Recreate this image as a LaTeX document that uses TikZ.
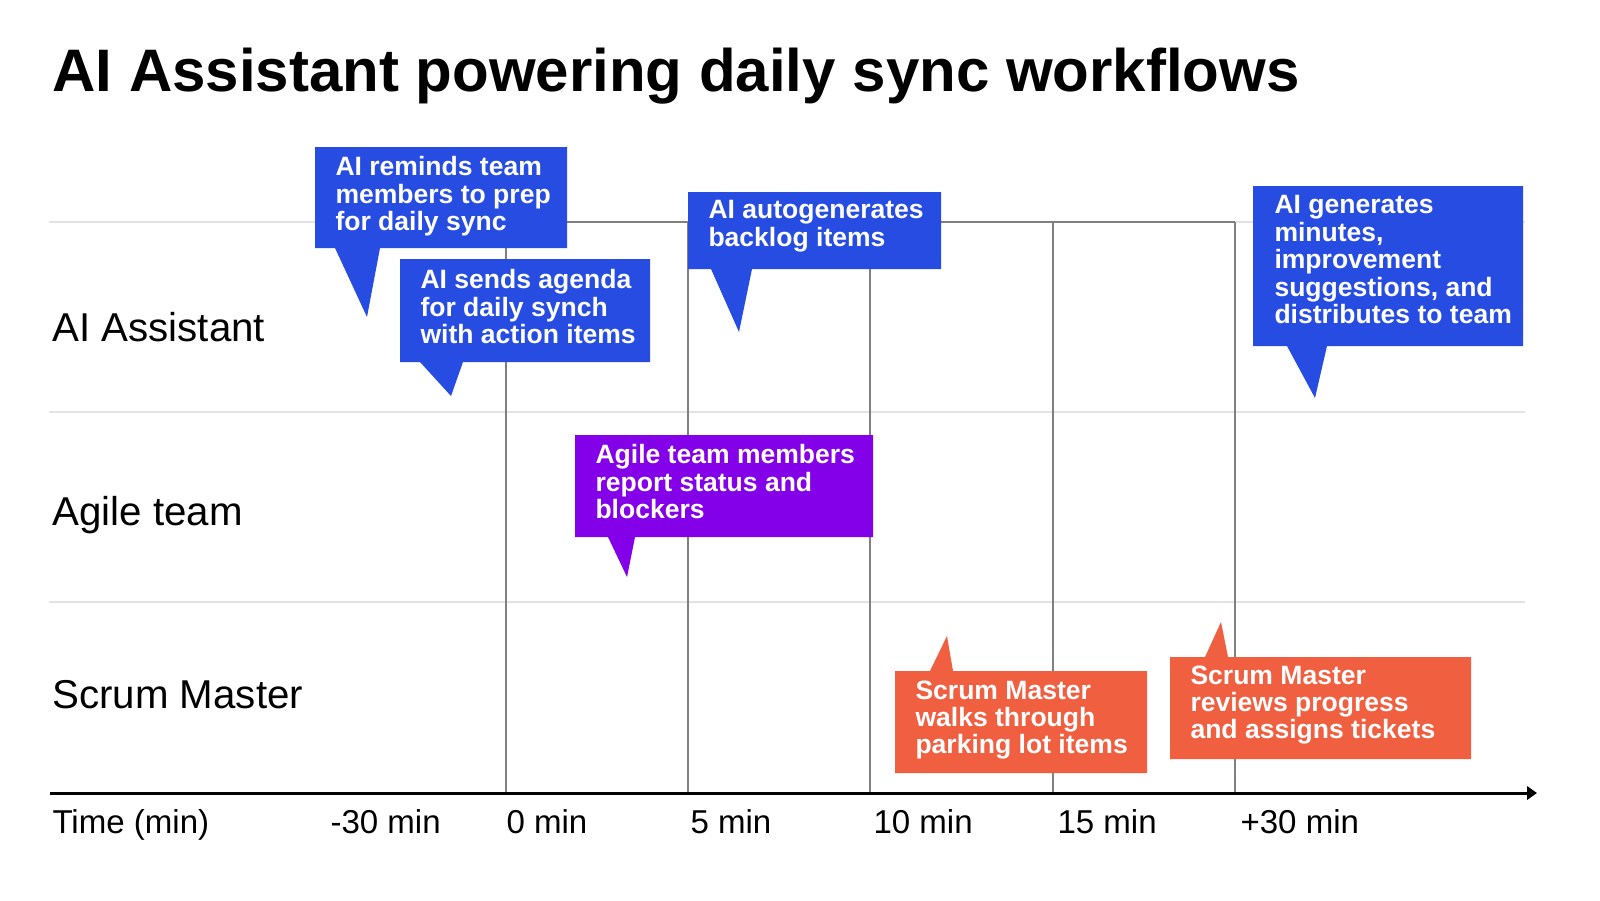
\documentclass[tikz,border=0pt]{standalone}
\usepackage{fontspec}
\setmainfont{Liberation Sans}
\usetikzlibrary{arrows.meta}
\definecolor{aiblue}{RGB}{38,76,226}
\definecolor{teampurple}{RGB}{132,0,232}
\definecolor{smorange}{RGB}{240,95,64}
\definecolor{lanegray}{RGB}{227,227,227}
\definecolor{tickgray}{RGB}{128,128,128}
\tikzset{every picture/.style={line width=0.75pt}}
\tikzset{
  lane/.style={draw=lanegray, line width=1.9pt},
  tick/.style={draw=tickgray, line width=1.1pt},
  calltext/.style={anchor=north west, inner sep=0pt, align=left, text=white, font=\fontsize{19.9}{20.6}\selectfont\bfseries},
  rowlabel/.style={anchor=base west, inner sep=0pt, font=\fontsize{30.2}{36}\selectfont},
  timelabel/.style={anchor=base west, inner sep=0pt, font=\fontsize{24.8}{30}\selectfont}
}

\begin{document}
\begin{tikzpicture}[x=0.75pt,y=0.75pt,yscale=-1,xscale=1]
\fill[white] (0,0) rectangle (1600,900);
\useasboundingbox (0,0) rectangle (1600,900);
% swim lanes
\draw[lane] (49,222) -- (1525,222) ;
\draw[lane] (49,412) -- (1525,412) ;
\draw[lane] (49,602) -- (1525,602) ;
% time grid
\draw[tick] (506,222) -- (1235,222) ;
\draw[tick] (506,222) -- (506,793) ;
\draw[tick] (688,222) -- (688,793) ;
\draw[tick] (870,222) -- (870,793) ;
\draw[tick] (1053,222) -- (1053,793) ;
\draw[tick] (1235,222) -- (1235,793) ;
% time axis
\coordinate (tstart) at (50,793);
\coordinate (tend) at (1537,793);
\draw[line width=2.25pt, -{Triangle[length=7.5pt,width=10pt]}] (tstart) -- (tend) ;
% callouts
\fill[aiblue] (315,147) -- (567,147) -- (567,248) -- (380,248) -- (367,317) -- (335,248) -- (315,248) -- cycle ;
\fill[aiblue] (400,259) -- (650,259) -- (650,362) -- (463,362) -- (451,396) -- (420,362) -- (400,362) -- cycle ;
\fill[aiblue] (688,192) -- (941,192) -- (941,269) -- (752,269) -- (739,332) -- (711,269) -- (688,269) -- cycle ;
\fill[aiblue] (1253,186) -- (1523,186) -- (1523,346) -- (1327,346) -- (1315,398) -- (1287,346) -- (1253,346) -- cycle ;
\fill[teampurple] (575,435) -- (873,435) -- (873,537) -- (635,537) -- (627,577) -- (608,537) -- (575,537) -- cycle ;
\fill[smorange] (895,671) -- (930,671) -- (947,636) -- (953,671) -- (1147,671) -- (1147,773) -- (895,773) -- cycle ;
\fill[smorange] (1170,657) -- (1205,657) -- (1221,622) -- (1228,657) -- (1471,657) -- (1471,759) -- (1170,759) -- cycle ;
\draw (335,156) node (remind) [calltext] {AI reminds team\\members to prep\\for daily sync};
\draw (420,269) node (agenda) [calltext] {AI sends agenda\\for daily synch\\with action items};
\draw (708,200) node (backlog) [calltext] {AI autogenerates\\backlog items};
\draw (1274,195) node (minutes) [calltext] {AI generates\\minutes,\\improvement\\suggestions, and\\distributes to team};
\draw (595,444) node (report) [calltext] {Agile team members\\report status and\\blockers};
\draw (915,680) node (parking) [calltext] {Scrum Master\\walks through\\parking lot items};
\draw (1190,665) node (review) [calltext] {Scrum Master\\reviews progress\\and assigns tickets};
% labels
\draw (52,91) node (title) [anchor=base west, inner sep=0pt, font=\fontsize{45}{54}\selectfont\bfseries] {AI Assistant powering daily sync workflows};
\draw (52,341) node (ailane) [rowlabel] {AI Assistant};
\draw (52,525) node (agilelane) [rowlabel] {Agile team};
\draw (52,708) node (scrumlane) [rowlabel] {Scrum Master};
\draw (52,833) node (tunit) [timelabel] {Time (min)};
\draw (330,833) node (tminus) [timelabel] {-30 min};
\draw (506,833) node (tzero) [timelabel] {0 min};
\draw (690,833) node (tfive) [timelabel] {5 min};
\draw (873,833) node (tten) [timelabel] {10 min};
\draw (1057,833) node (tfifteen) [timelabel] {15 min};
\draw (1240,833) node (tplus) [timelabel] {+30 min};
\end{tikzpicture}
\end{document}
